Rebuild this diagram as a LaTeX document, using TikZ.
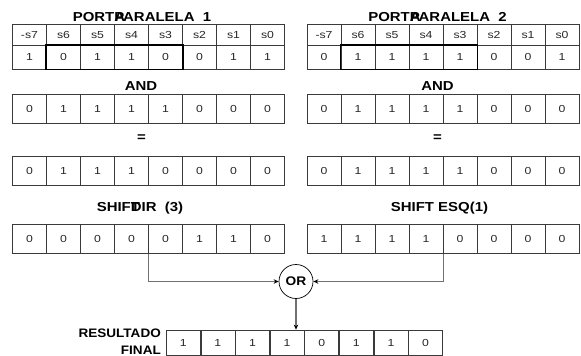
\documentclass[tikz,border=0pt]{standalone}
\usepackage{fontspec}
\setmainfont{Liberation Sans}
\newfontfamily\titlefont[FakeStretch=1.15]{Liberation Sans Bold}
\newfontfamily\labfont[FakeStretch=1.1]{Liberation Sans Bold}
\newfontfamily\cellfont[FakeStretch=1.2]{Liberation Sans}
\usetikzlibrary{arrows.meta}
\definecolor{gridc}{HTML}{3A3A3A}
\definecolor{linkc}{HTML}{707070}
\begin{document}
\begin{tikzpicture}[x=1pt,y=-1pt,
  cell/.style={draw=gridc, line width=0.75pt, minimum width=34pt, inner sep=0pt, text=black!85, font=\cellfont\fontsize{10.2}{12}\selectfont},
  hrow/.style={cell, minimum height=20.6pt},
  vrow/.style={cell, minimum height=23.7pt},
  brow/.style={cell, minimum height=28.8pt},
  rrow/.style={cell, minimum height=25pt},
  title/.style={font=\titlefont\fontsize{13}{17}\selectfont, inner sep=0pt},
  reslabel/.style={font=\labfont\fontsize{12.3}{17}\selectfont, inner sep=0pt},
  selbox/.style={draw=black, line width=1.6pt},
  link/.style={draw=linkc, line width=1.1pt, -{Stealth[length=5pt,width=4.5pt,color=black]}},
  orgate/.style={circle, draw=black, line width=0.7pt, minimum size=34pt, inner sep=0pt, font=\labfont\fontsize{12.5}{14}\selectfont}]
\useasboundingbox (0,0) rectangle (581,356);
% titles
\node[title] (t1) at (142,16.7) {PORT\makebox[0pt][l]{A}PARALELA\ \ 1};
\node[title] (t2) at (437.5,16.7) {PORT\makebox[0pt][l]{A}PARALELA\ \ 2};
\node[title] (and1) at (141,86) {AND};
\node[title] (and2) at (437.5,86) {AND};
\node[title] (eq1) at (141.5,138) {=};
\node[title] (eq2) at (437.5,138) {=};
\node[title] (sh1) at (140,208) {SHIF\makebox[0pt][l]{T}DIR\ \ (3)};
\node[title] (sh2) at (439.5,208) {SHIFT ESQ(1)};
% header rows
\foreach \t [count=\i] in {-s7,s6,s5,s4,s3,s2,s1,s0} {
  \node[hrow] (lh\i) at ({12.5+(\i-0.5)*34}, 35) {\t};
  \node[hrow] (rh\i) at ({307+(\i-0.5)*34}, 35) {\t};
}
% port values
\foreach \a/\b [count=\i] in {1/0,0/1,1/1,1/1,0/1,0/0,1/0,1/1} {
  \node[vrow] (lv\i) at ({12.5+(\i-0.5)*34}, 57.15) {\a};
  \node[vrow] (rv\i) at ({307+(\i-0.5)*34}, 57.15) {\b};
}
\draw[selbox] (lv2.north west) rectangle (lv5.south east);
\draw[selbox] (rv2.north west) rectangle (rv5.south east);
% AND masks
\foreach \a/\b [count=\i] in {0/0,1/1,1/1,1/1,1/1,0/0,0/0,0/0} {
  \node[brow] (lm\i) at ({12.5+(\i-0.5)*34}, 108.5) {\a};
  \node[brow] (rm\i) at ({307+(\i-0.5)*34}, 108.5) {\b};
}
% results of AND
\foreach \a/\b [count=\i] in {0/0,1/1,1/1,1/1,0/1,0/0,0/0,0/0} {
  \node[brow] (le\i) at ({12.5+(\i-0.5)*34}, 170.5) {\a};
  \node[brow] (re\i) at ({307+(\i-0.5)*34}, 170.5) {\b};
}
% shifts
\foreach \a/\b [count=\i] in {0/1,0/1,0/1,0/1,0/0,1/0,1/0,0/0} {
  \node[brow] (ls\i) at ({12.5+(\i-0.5)*34}, 238.8) {\a};
  \node[brow] (rs\i) at ({307+(\i-0.5)*34}, 238.8) {\b};
}
% OR gate
\node[orgate] (or) at (296,281.5) {OR};
% final result
\foreach \a [count=\i] in {1,1,1,1,0,1,1,0} {
  \node[rrow] (res\i) at ({166+(\i-0.5)*34.6}, 342.5) {\a};
}
\node[reslabel, anchor=east, align=right] (lab) at (161,342) {RESULTADO\\FINAL};
% connectors
\draw[link] (ls4.south east) |- (or.west);
\draw[link] (rs4.south east) |- (or.east);
\draw[link] (or.south) -- (or.south |- res1.north);
\end{tikzpicture}
\end{document}
